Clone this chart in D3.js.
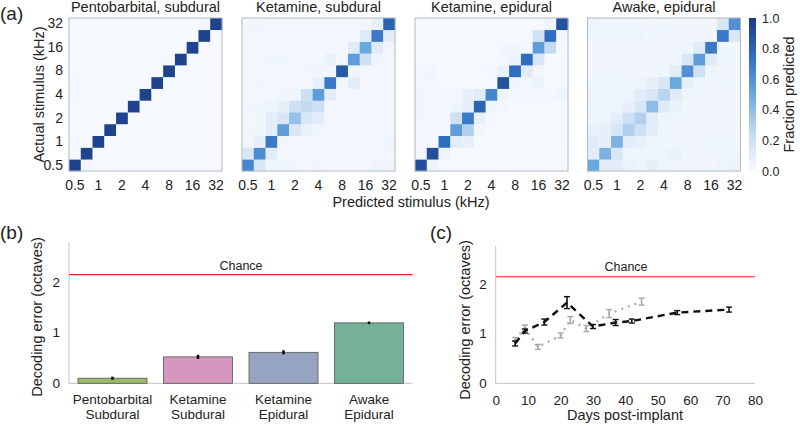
<!DOCTYPE html>
<html><head><meta charset="utf-8">
<script src="https://cdn.jsdelivr.net/npm/d3@7"></script>
<style>
html,body{margin:0;padding:0;background:#fff;}
svg text{font-family:"Liberation Sans",Arial,Helvetica,sans-serif;fill:#222;}
</style></head>
<body><svg id="c" width="800" height="426"></svg>
<script>
// ---------- DATA ----------
const freqBins = ["0.5","0.71","1","1.41","2","2.83","4","5.66","8","11.3","16","22.6","32"];
const freqTicks = ["0.5","1","2","4","8","16","32"];
const panelTitles = ["Pentobarbital, subdural","Ketamine, subdural","Ketamine, epidural","Awake, epidural"];
// rows: actual stimulus index (0 = 0.5 kHz), cols: predicted stimulus index
const pentoSubdural = [
[0.96,0.02,0.01,0.01,0.01,0.01,0.01,0.01,0.01,0.01,0.01,0.01,0.01],
[0.01,0.95,0.01,0.01,0.01,0.01,0.01,0.01,0.01,0.01,0.01,0.01,0.01],
[0.02,0.01,0.95,0.01,0.01,0.01,0.01,0.01,0.01,0.01,0.01,0.01,0.01],
[0.01,0.01,0.01,0.95,0.01,0.01,0.01,0.01,0.01,0.01,0.01,0.01,0.01],
[0.01,0.01,0.01,0.01,0.95,0.01,0.01,0.01,0.01,0.01,0.01,0.01,0.01],
[0.01,0.01,0.01,0.01,0.01,0.95,0.01,0.01,0.01,0.01,0.01,0.01,0.01],
[0.02,0.01,0.01,0.01,0.01,0.01,0.95,0.01,0.01,0.01,0.01,0.01,0.01],
[0.02,0.01,0.01,0.01,0.01,0.01,0.01,0.95,0.01,0.01,0.01,0.01,0.01],
[0.01,0.01,0.01,0.01,0.01,0.01,0.01,0.01,0.95,0.01,0.01,0.01,0.01],
[0.01,0.01,0.01,0.01,0.01,0.01,0.01,0.01,0.01,0.95,0.01,0.01,0.01],
[0.01,0.01,0.01,0.01,0.01,0.01,0.01,0.01,0.01,0.01,0.95,0.01,0.01],
[0.01,0.01,0.01,0.01,0.01,0.01,0.01,0.01,0.01,0.01,0.01,0.95,0.01],
[0.01,0.01,0.01,0.01,0.01,0.01,0.01,0.01,0.01,0.01,0.01,0.02,0.95]];
const ketSubdural = [
[0.65,0.15,0.04,0.03,0.03,0.02,0.03,0.02,0.02,0.02,0.02,0.04,0.03],
[0.15,0.62,0.12,0.02,0.02,0.02,0.02,0.02,0.02,0.02,0.02,0.02,0.02],
[0.03,0.08,0.70,0.03,0.02,0.02,0.02,0.02,0.02,0.02,0.02,0.02,0.04],
[0.03,0.03,0.10,0.55,0.15,0.07,0.03,0.02,0.02,0.02,0.02,0.02,0.02],
[0.02,0.03,0.10,0.15,0.38,0.15,0.10,0.02,0.02,0.02,0.02,0.02,0.02],
[0.04,0.04,0.05,0.08,0.20,0.25,0.20,0.02,0.02,0.02,0.02,0.02,0.02],
[0.02,0.02,0.02,0.03,0.04,0.20,0.55,0.10,0.02,0.02,0.02,0.02,0.02],
[0.02,0.03,0.02,0.02,0.02,0.02,0.08,0.70,0.03,0.10,0.02,0.02,0.02],
[0.02,0.02,0.02,0.02,0.02,0.03,0.03,0.03,0.85,0.05,0.02,0.02,0.02],
[0.02,0.02,0.04,0.04,0.02,0.02,0.02,0.07,0.02,0.55,0.20,0.05,0.02],
[0.02,0.02,0.02,0.02,0.02,0.02,0.02,0.02,0.02,0.12,0.50,0.12,0.03],
[0.02,0.02,0.02,0.02,0.02,0.02,0.02,0.02,0.02,0.02,0.12,0.70,0.10],
[0.03,0.03,0.02,0.02,0.02,0.02,0.02,0.02,0.02,0.02,0.02,0.08,0.80]];
const ketEpidural = [
[0.90,0.05,0.01,0.01,0.01,0.01,0.01,0.01,0.01,0.01,0.01,0.01,0.01],
[0.02,0.90,0.05,0.01,0.01,0.01,0.01,0.01,0.01,0.01,0.01,0.01,0.01],
[0.02,0.02,0.75,0.10,0.08,0.01,0.01,0.01,0.01,0.01,0.01,0.01,0.01],
[0.02,0.02,0.02,0.55,0.30,0.02,0.01,0.01,0.01,0.01,0.01,0.01,0.01],
[0.03,0.02,0.02,0.20,0.70,0.08,0.02,0.01,0.01,0.01,0.01,0.01,0.01],
[0.03,0.02,0.02,0.05,0.08,0.80,0.05,0.02,0.01,0.01,0.01,0.01,0.01],
[0.03,0.02,0.02,0.02,0.08,0.12,0.65,0.05,0.02,0.02,0.02,0.02,0.04],
[0.02,0.02,0.01,0.01,0.01,0.01,0.01,0.88,0.05,0.02,0.06,0.01,0.01],
[0.02,0.04,0.01,0.01,0.01,0.01,0.02,0.07,0.75,0.12,0.02,0.01,0.01],
[0.01,0.01,0.01,0.01,0.01,0.01,0.01,0.02,0.05,0.75,0.15,0.01,0.01],
[0.01,0.01,0.01,0.01,0.01,0.01,0.01,0.03,0.03,0.02,0.55,0.25,0.01],
[0.01,0.01,0.01,0.01,0.01,0.01,0.01,0.01,0.01,0.01,0.18,0.75,0.02],
[0.01,0.01,0.01,0.01,0.01,0.01,0.01,0.01,0.01,0.01,0.01,0.05,0.88]];
const awakeEpidural = [
[0.50,0.10,0.10,0.06,0.05,0.08,0.04,0.03,0.03,0.03,0.03,0.05,0.06],
[0.10,0.45,0.15,0.04,0.04,0.04,0.05,0.07,0.03,0.03,0.03,0.04,0.04],
[0.12,0.08,0.45,0.10,0.08,0.05,0.04,0.03,0.03,0.03,0.04,0.05,0.03],
[0.08,0.08,0.15,0.30,0.20,0.10,0.04,0.03,0.03,0.03,0.03,0.03,0.03],
[0.04,0.05,0.10,0.20,0.30,0.10,0.05,0.04,0.04,0.03,0.03,0.03,0.03],
[0.05,0.04,0.05,0.08,0.15,0.40,0.12,0.07,0.03,0.03,0.03,0.03,0.03],
[0.04,0.04,0.04,0.05,0.10,0.15,0.28,0.12,0.04,0.03,0.03,0.03,0.03],
[0.04,0.05,0.04,0.04,0.05,0.08,0.15,0.50,0.08,0.04,0.03,0.04,0.03],
[0.03,0.04,0.03,0.03,0.03,0.03,0.04,0.10,0.60,0.20,0.05,0.03,0.03],
[0.03,0.03,0.03,0.03,0.03,0.03,0.03,0.05,0.15,0.55,0.12,0.04,0.03],
[0.03,0.03,0.03,0.03,0.03,0.03,0.03,0.03,0.05,0.12,0.70,0.05,0.03],
[0.04,0.04,0.05,0.04,0.05,0.03,0.03,0.03,0.03,0.03,0.03,0.70,0.15],
[0.05,0.04,0.04,0.04,0.04,0.03,0.04,0.03,0.03,0.03,0.03,0.15,0.60]];
const colorbarTicks = [0,0.2,0.4,0.6,0.8,1.0];

const barCategories = [["Pentobarbital","Subdural"],["Ketamine","Subdural"],["Ketamine","Epidural"],["Awake","Epidural"]];
const barValues = [0.10, 0.52, 0.61, 1.19];
const barErrors = [0.03, 0.04, 0.04, 0.025];
const barColors = ["#9dba6c","#d597bd","#97a4c1","#74b197"];
const chanceLevel = 2.14;

const blackDays = [6, 9, 15, 22, 30, 37, 42, 56, 72];
const blackErr  = [0.80, 1.05, 1.23, 1.62, 1.14, 1.22, 1.25, 1.42, 1.48];
const blackSem  = [0.05, 0.04, 0.06, 0.12, 0.04, 0.06, 0.04, 0.04, 0.05];
const grayDays  = [6, 9, 13, 20, 23, 28, 35, 45];
const grayErr   = [0.88, 1.11, 0.73, 0.96, 1.27, 1.10, 1.40, 1.64];
const graySem   = [0.04, 0.06, 0.05, 0.05, 0.07, 0.06, 0.08, 0.07];
const dayTicks = [0,10,20,30,40,50,60,70,80];

// ---------- DRAW ----------
const svg = d3.select("#c");
const FONT = 14;
const color = d3.scaleLinear()
  .domain([0,0.25,0.5,0.75,1])
  .range(["#f7fafe","#c4daf1","#6aa8e0","#2f6dc0","#1b3a80"])
  .clamp(true);

// panel (a)
const mats = [pentoSubdural, ketSubdural, ketEpidural, awakeEpidural];
const hmLefts = [69, 242, 415, 587.5];
const hmTop = 18, hmSize = 153;
mats.forEach((m, p) => {
  const g = svg.append("g").attr("transform", `translate(${hmLefts[p]},${hmTop})`);
  const x = d3.scaleBand().domain(freqBins).range([0, hmSize]);
  const y = d3.scaleBand().domain(freqBins).range([hmSize, 0]);
  m.forEach((row, r) => row.forEach((v, c) => {
    g.append("rect").attr("x", x(freqBins[c])).attr("y", y(freqBins[r]))
      .attr("width", x.bandwidth()+0.3).attr("height", y.bandwidth()+0.3)
      .attr("fill", color(v));
  }));
  g.append("rect").attr("width", hmSize).attr("height", hmSize)
    .attr("fill","none").attr("stroke","#b4b8bd").attr("stroke-width",1);
  const xa = g.append("g").attr("transform",`translate(0,${hmSize})`)
    .call(d3.axisBottom(x).tickValues(freqTicks).tickSize(0).tickPadding(9));
  xa.select(".domain").remove();
  xa.selectAll("text").attr("font-size", FONT).attr("fill","#222");
  if (p === 0) {
    const ya = g.append("g").call(d3.axisLeft(y).tickValues(freqTicks).tickSize(0).tickPadding(6));
    ya.select(".domain").remove();
    ya.selectAll("text").attr("font-size", FONT).attr("fill","#222");
    g.append("text").attr("transform",`translate(-25,${hmSize/2}) rotate(-90)`)
      .attr("text-anchor","middle").attr("font-size",14.5).text("Actual stimulus (kHz)");
  }
  g.append("text").attr("x", hmSize/2).attr("y", -6).attr("text-anchor","middle")
    .attr("font-size",14.5).text(panelTitles[p]);
});
svg.append("text").attr("x", 411).attr("y", 207).attr("text-anchor","middle")
  .attr("font-size",14.5).text("Predicted stimulus (kHz)");
svg.append("text").attr("x",0).attr("y",20).attr("font-size",19).text("(a)");

// colorbar
const defs = svg.append("defs");
const grad = defs.append("linearGradient").attr("id","cb").attr("x1","0").attr("y1","1").attr("x2","0").attr("y2","0");
d3.range(0,1.0001,0.05).forEach(t => grad.append("stop").attr("offset", t).attr("stop-color", color(t)));
const cbX = 749, cbW = 7;
svg.append("rect").attr("x",cbX).attr("y",hmTop).attr("width",cbW).attr("height",hmSize).attr("fill","url(#cb)");
const cbScale = d3.scaleLinear().domain([0,1]).range([hmTop+hmSize, hmTop]);
const cba = svg.append("g").attr("transform",`translate(${cbX+cbW},0)`)
  .call(d3.axisRight(cbScale).tickValues(colorbarTicks).tickFormat(d3.format(".1f")).tickSize(0).tickPadding(6));
cba.select(".domain").remove();
cba.selectAll("text").attr("font-size",12.5).attr("fill","#222");
svg.append("text").attr("transform",`translate(794,${hmTop+hmSize/2}) rotate(-90)`)
  .attr("text-anchor","middle").attr("font-size",14.5).text("Fraction predicted");

// panel (b)
const bY = d3.scaleLinear().domain([0,1]).range([383.3, 332.5]);
const bX = d3.scaleBand().domain(d3.range(barValues.length)).range([69, 412.5]).paddingInner(0.193).paddingOuter(0.105);
const gb = svg.append("g");
gb.append("line").attr("x1",69).attr("x2",69).attr("y1",bY(0)).attr("y2",242).attr("stroke","#c4c4c4");
gb.append("line").attr("x1",69).attr("x2",412.5).attr("y1",bY(0)).attr("y2",bY(0)).attr("stroke","#c4c4c4");
const bya = gb.append("g").attr("transform","translate(69,0)").call(d3.axisLeft(bY).tickValues([0,1,2]).tickFormat(d3.format("d")).tickSize(0).tickPadding(9));
bya.select(".domain").remove();
bya.selectAll("text").attr("font-size",13.5).attr("fill","#222");
barValues.forEach((v,i) => {
  gb.append("rect").attr("x", bX(i)).attr("y", bY(v)).attr("width", bX.bandwidth()).attr("height", bY(0)-bY(v))
    .attr("fill", barColors[i]).attr("stroke","#555").attr("stroke-width",0.8);
  const cx = bX(i)+bX.bandwidth()/2;
  gb.append("line").attr("x1",cx).attr("x2",cx).attr("y1",bY(v-barErrors[i])).attr("y2",bY(v+barErrors[i]))
    .attr("stroke","#000").attr("stroke-width",2.5);
  barCategories[i].forEach((t,k) => gb.append("text").attr("x",cx).attr("y",404+k*14.5)
    .attr("text-anchor","middle").attr("font-size",13.5).text(t));
});
gb.append("line").attr("x1",69).attr("x2",412.5).attr("y1",bY(chanceLevel)).attr("y2",bY(chanceLevel))
  .attr("stroke","#e0262b").attr("stroke-width",1.2);
gb.append("text").attr("x",241).attr("y",bY(chanceLevel)-5).attr("text-anchor","middle").attr("font-size",12.5).attr("fill","#555").text("Chance");
gb.append("text").attr("transform","translate(42,317) rotate(-90)").attr("text-anchor","middle").attr("font-size",14.5).text("Decoding error (octaves)");
svg.append("text").attr("x",0).attr("y",239).attr("font-size",19).text("(b)");

// panel (c)
const cX = d3.scaleLinear().domain([0,80]).range([495.7, 755]);
const cY = d3.scaleLinear().domain([0,1]).range([383.3, 333.5]);
const gc = svg.append("g");
gc.append("line").attr("x1",cX(0)).attr("x2",cX(0)).attr("y1",cY(0)).attr("y2",246).attr("stroke","#c4c4c4");
gc.append("line").attr("x1",cX(0)).attr("x2",cX(80)).attr("y1",cY(0)).attr("y2",cY(0)).attr("stroke","#c4c4c4");
const cxa = gc.append("g").attr("transform",`translate(0,${cY(0)})`).call(d3.axisBottom(cX).tickValues(dayTicks).tickSize(0).tickPadding(12));
cxa.select(".domain").remove();
cxa.selectAll("text").attr("font-size",13.5).attr("fill","#222");
const cya = gc.append("g").attr("transform",`translate(${cX(0)},0)`).call(d3.axisLeft(cY).tickValues([0,1,2]).tickFormat(d3.format("d")).tickSize(0).tickPadding(9));
cya.select(".domain").remove();
cya.selectAll("text").attr("font-size",13.5).attr("fill","#222");
gc.append("line").attr("x1",cX(0)).attr("x2",cX(80)).attr("y1",cY(chanceLevel)).attr("y2",cY(chanceLevel))
  .attr("stroke","#e0262b").attr("stroke-width",1.2);
gc.append("text").attr("x",626).attr("y",cY(chanceLevel)-6).attr("text-anchor","middle").attr("font-size",12.5).attr("fill","#555").text("Chance");
const line = d3.line().x(d => cX(d[0])).y(d => cY(d[1]));
function series(days, vals, sems, stroke, dash, capCol) {
  const pts = days.map((d,i)=>[d, vals[i]]);
  gc.append("path").attr("d", line(pts)).attr("fill","none").attr("stroke",stroke)
    .attr("stroke-width",2.4).attr("stroke-dasharray",dash);
  days.forEach((d,i) => {
    const x = cX(d);
    gc.append("line").attr("x1",x).attr("x2",x).attr("y1",cY(vals[i]-sems[i])).attr("y2",cY(vals[i]+sems[i])).attr("stroke",capCol).attr("stroke-width",1.6);
    [vals[i]-sems[i], vals[i]+sems[i]].forEach(v => gc.append("line").attr("x1",x-3).attr("x2",x+3).attr("y1",cY(v)).attr("y2",cY(v)).attr("stroke",capCol).attr("stroke-width",1.4));
  });
}
series(grayDays, grayErr, graySem, "#b0b0b0", "2,5", "#a8a8a8");
series(blackDays, blackErr, blackSem, "#111", "7,5", "#111");
gc.append("text").attr("x",625).attr("y",420).attr("text-anchor","middle").attr("font-size",14.5).text("Days post-implant");
gc.append("text").attr("transform","translate(470,320) rotate(-90)").attr("text-anchor","middle").attr("font-size",14.5).text("Decoding error (octaves)");
svg.append("text").attr("x",430).attr("y",239).attr("font-size",19).text("(c)");
</script></body></html>
